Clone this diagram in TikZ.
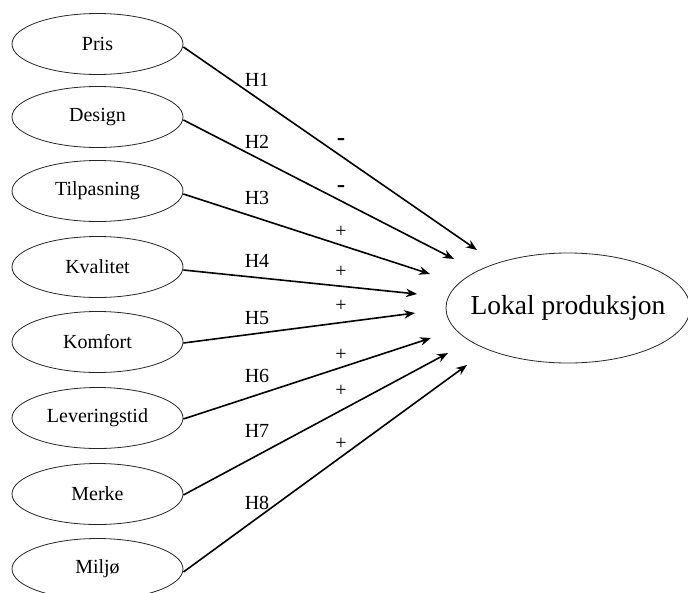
\documentclass[tikz,border=0pt]{standalone}
\usepackage{fontspec}
\setmainfont{Liberation Serif}
\usetikzlibrary{arrows.meta,shapes.geometric}
\begin{document}
\begin{tikzpicture}[x=1pt,y=-1pt,
  var/.style={draw=black!85,line width=0.8pt,ellipse,minimum width=171pt,minimum height=61pt,inner sep=0pt,font=\fontsize{20}{24}\selectfont},
  big/.style={draw=black!85,line width=0.8pt,ellipse,minimum width=244pt,minimum height=110pt,inner sep=0pt,font=\fontsize{27.5}{32}\selectfont},
  conn/.style={line width=1.6pt,-{Stealth[length=11pt,width=8.5pt]}},
  lbl/.style={font=\fontsize{20}{24}\selectfont,inner sep=0pt},
  sgn/.style={font=\fontsize{20}{24}\selectfont,inner sep=0pt},
  neg/.style={font=\fontsize{25}{28}\selectfont\bfseries,inner sep=0pt}]
\clip (0,0) rectangle (688,592);
\node[var] (pris) at (97.5,44) {Pris};
\node[var] (design) at (97.5,117) {Design};
\node[var] (tilp) at (97.5,191) {Tilpasning};
\node[var] (kval) at (97.5,267) {Kvalitet};
\node[var] (komf) at (97.5,342) {Komfort};
\node[var] (lev) at (97.5,418) {Leveringstid};
\node[var] (merke) at (97.5,494) {Merke};
\node[var] (milj) at (97.5,569) {Miljø};
\node[big] (lok) at (568,308) {\makebox[0pt]{Lokal produksjon}};
\coordinate (t1) at (477,250);
\coordinate (t2) at (454,259);
\coordinate (t3) at (430,274);
\coordinate (t4) at (417,294);
\coordinate (t5) at (415,313);
\coordinate (t6) at (431,338);
\coordinate (t7) at (448,353);
\coordinate (t8) at (467,365);
\draw[conn] ([yshift=-3pt]pris.east) -- (t1);
\draw[conn] ([yshift=-3pt]design.east) -- (t2);
\draw[conn] ([yshift=-3pt]tilp.east) -- (t3);
\draw[conn] ([yshift=-3pt]kval.east) -- (t4);
\draw[conn] ([yshift=-1pt]komf.east) -- (t5);
\draw[conn] ([yshift=-1pt]lev.east) -- (t6);
\draw[conn] ([yshift=-1pt]merke.east) -- (t7);
\draw[conn] ([yshift=-3pt]milj.east) -- (t8);
\node[lbl] (h1) at (257,80) {H1};
\node[lbl] (h2) at (257,142) {H2};
\node[lbl] (h3) at (257,198) {H3};
\node[lbl] (h4) at (257,261) {H4};
\node[lbl] (h5) at (257,318) {H5};
\node[lbl] (h6) at (257,376) {H6};
\node[lbl] (h7) at (257,431) {H7};
\node[lbl] (h8) at (257,503) {H8};
\node[neg] (s1) at (341,142) {-};
\node[neg] (s2) at (341,189) {-};
\node[sgn] (s3) at (341,232) {+};
\node[sgn] (s4) at (341,272) {+};
\node[sgn] (s5) at (341,306) {+};
\node[sgn] (s6) at (341,355) {+};
\node[sgn] (s7) at (341,391) {+};
\node[sgn] (s8) at (341,444) {+};
\end{tikzpicture}
\end{document}
